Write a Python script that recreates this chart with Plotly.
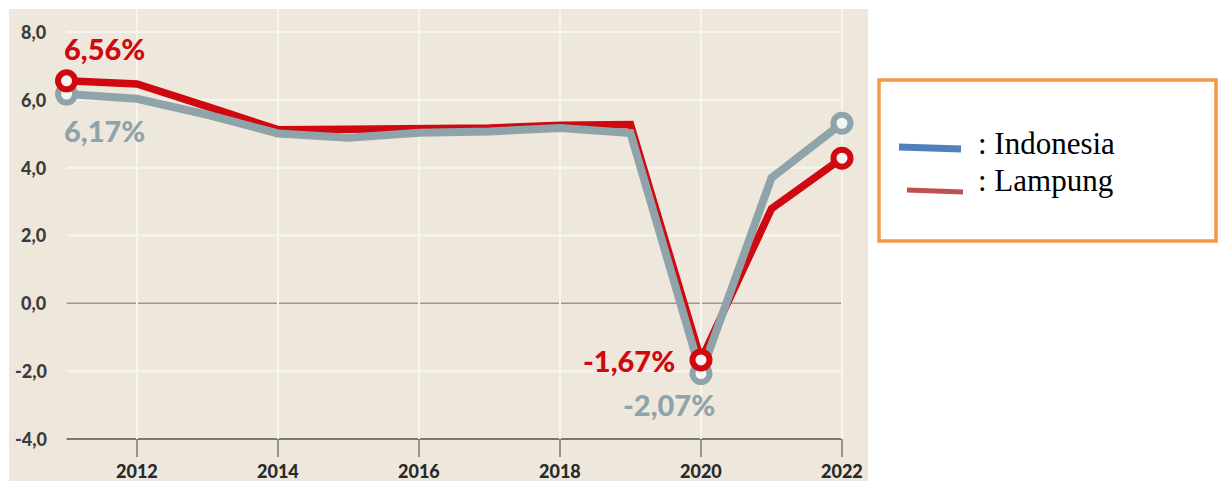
import plotly.graph_objects as go

years = [2011, 2012, 2013, 2014, 2015, 2016, 2017, 2018, 2019, 2020, 2021, 2022]
lampung = [6.56, 6.47, 5.80, 5.12, 5.13, 5.15, 5.17, 5.25, 5.27, -1.67, 2.79, 4.28]
indonesia = [6.17, 6.03, 5.56, 5.01, 4.88, 5.03, 5.07, 5.17, 5.02, -2.07, 3.70, 5.31]
y_ticks = [8, 6, 4, 2, 0, -2, -4]
y_tick_labels = ["8,0", "6,0", "4,0", "2,0", "0,0", "-2,0", "-4,0"]
x_ticks = [2012, 2014, 2016, 2018, 2020, 2022]
x_tick_labels = ["2012", "2014", "2016", "2018", "2020", "2022"]
marker_idx = [0, 9, 11]

W, H = 1219, 481
RED = "#d0080f"
GREY = "#8fa3ab"
BEIGE = "#eee8dc"
GRID = "#f8f5ee"

fig = go.Figure()

# lines: red below, grey on top
fig.add_trace(go.Scatter(x=years, y=lampung, mode="lines",
                         line=dict(color=RED, width=7.5), hoverinfo="skip"))
fig.add_trace(go.Scatter(x=years, y=indonesia, mode="lines",
                         line=dict(color=GREY, width=8), hoverinfo="skip"))
# markers
fig.add_trace(go.Scatter(x=[years[i] for i in marker_idx], y=[indonesia[i] for i in marker_idx],
                         mode="markers",
                         marker=dict(size=17, color="#f4f6f4", line=dict(color=GREY, width=6)),
                         hoverinfo="skip"))
fig.add_trace(go.Scatter(x=[years[i] for i in marker_idx], y=[lampung[i] for i in marker_idx],
                         mode="markers",
                         marker=dict(size=17, color="#f8f4f2", line=dict(color=RED, width=6)),
                         hoverinfo="skip"))

shapes = []
# horizontal gridlines
for t in y_ticks:
    if t == -4:
        col, w = "#7a776c", 2
    elif t == 0:
        col, w = "#9a978c", 1.5
    else:
        col, w = GRID, 2
    shapes.append(dict(type="line", xref="x", yref="y", x0=years[0], x1=years[-1],
                       y0=t, y1=t, line=dict(color=col, width=w), layer="below"))
# vertical gridlines
for xt in x_ticks:
    shapes.append(dict(type="line", xref="x", yref="y", x0=xt, x1=xt,
                       y0=-4, y1=8.7, line=dict(color=GRID, width=2), layer="below"))
    shapes.append(dict(type="line", xref="x", yref="y", x0=xt, x1=xt,
                       y0=-4, y1=-4.53, line=dict(color="#7a776c", width=1.5), layer="below"))

# legend box
def px(xp):
    return xp / W

def py(yp):
    return 1 - yp / H

shapes.append(dict(type="rect", xref="paper", yref="paper",
                   x0=px(879), x1=px(1216), y0=py(241), y1=py(80),
                   line=dict(color="#f79646", width=3.5), fillcolor="white"))
shapes.append(dict(type="line", xref="paper", yref="paper",
                   x0=px(899), x1=px(961), y0=py(147), y1=py(149),
                   line=dict(color="#4f81bd", width=7)))
shapes.append(dict(type="line", xref="paper", yref="paper",
                   x0=px(907), x1=px(963), y0=py(190), y1=py(192),
                   line=dict(color="#c0504d", width=5)))

annotations = []
for t, lab in zip(y_ticks, y_tick_labels):
    annotations.append(dict(x=px(49), xref="paper", y=t, yref="y", text=lab,
                            showarrow=False, xanchor="right", yanchor="middle",
                            font=dict(family="Lato", size=18, color="#3c3c3c", weight=900)))
for xt, lab in zip(x_ticks, x_tick_labels):
    annotations.append(dict(x=xt, xref="x", y=py(471), yref="paper", text=lab,
                            showarrow=False, xanchor="center", yanchor="middle",
                            font=dict(family="Lato", size=18, color="#2a2a2a", weight=900)))

pct_font = dict(family="Lato", size=29, weight=900)
annotations += [
    dict(x=px(62), xref="paper", y=py(48), yref="paper", text="6,56%", showarrow=False,
         xanchor="left", yanchor="middle", font=dict(pct_font, color=RED)),
    dict(x=px(62), xref="paper", y=py(130), yref="paper", text="6,17%", showarrow=False,
         xanchor="left", yanchor="middle", font=dict(pct_font, color=GREY)),
    dict(x=px(677), xref="paper", y=py(360), yref="paper", text="-1,67%", showarrow=False,
         xanchor="right", yanchor="middle", font=dict(pct_font, color=RED)),
    dict(x=px(669), xref="paper", y=py(404), yref="paper", text="-2,07%", showarrow=False,
         xanchor="center", yanchor="middle", font=dict(pct_font, color=GREY)),
    dict(x=px(976), xref="paper", y=py(143), yref="paper", text=": Indonesia", showarrow=False,
         xanchor="left", yanchor="middle",
         font=dict(family="Liberation Serif", size=31, color="black")),
    dict(x=px(976), xref="paper", y=py(181), yref="paper", text=": Lampung", showarrow=False,
         xanchor="left", yanchor="middle",
         font=dict(family="Liberation Serif", size=31, color="black")),
]

fig.update_layout(
    width=W, height=H,
    margin=dict(l=0, r=0, t=0, b=0),
    paper_bgcolor="white",
    plot_bgcolor=BEIGE,
    showlegend=False,
    xaxis=dict(domain=[9 / W, 868 / W], range=[2010.184, 2022.369],
               showgrid=False, zeroline=False, showticklabels=False, ticks="", fixedrange=True),
    yaxis=dict(domain=[0, 472 / H], range=[-5.238, 8.678],
               showgrid=False, zeroline=False, showticklabels=False, ticks="", fixedrange=True),
    shapes=shapes,
    annotations=annotations,
)

fig.write_html("out.html", config={"displayModeBar": False})
